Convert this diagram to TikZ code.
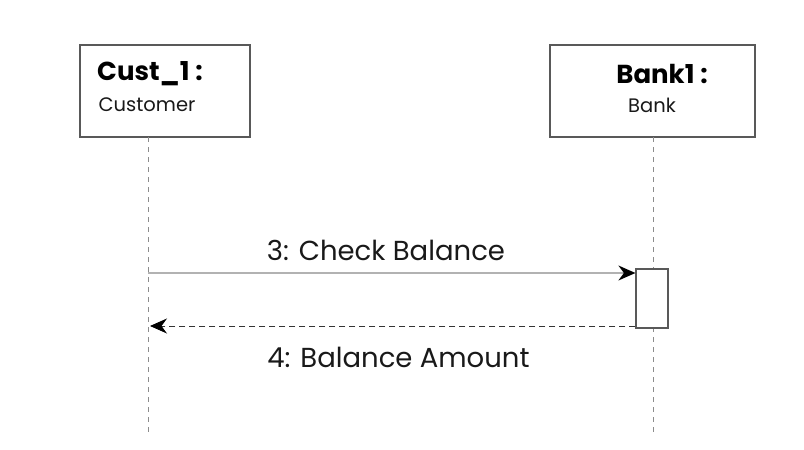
\documentclass[tikz,border=0pt]{standalone}
\usepackage{fontspec}
\setmainfont{Poppins}
\usetikzlibrary{arrows.meta}
\begin{document}
\begin{tikzpicture}[x=1pt,y=-1pt,
  objbox/.style={draw=black!65,line width=1.2pt,fill=white,inner sep=0pt},
  lifeline/.style={draw=black!45,line width=1pt,dash pattern=on 5pt off 5pt},
  actbox/.style={draw=black!65,line width=1.2pt,fill=white,minimum width=32pt,minimum height=59pt,inner sep=0pt},
  callmsg/.style={draw=black!30,line width=1.2pt,-{Stealth[length=17pt,width=15pt,black]}},
  retmsg/.style={draw=black!80,line width=0.9pt,dash pattern=on 6pt off 4pt,-{Stealth[length=17pt,width=15pt,black]}},
  msglabel/.style={font=\fontsize{27.5}{32}\selectfont,text=black!90},
  titletext/.style={font=\bfseries\fontsize{26}{30}\selectfont},
  subtext/.style={font=\fontsize{19.5}{23}\selectfont,text=black!90}]
\useasboundingbox[fill=white] (0,0) rectangle (804,450);
% object boxes
\node[objbox,minimum width=170pt,minimum height=92pt] (cust) at (165,91) {};
\node[objbox,minimum width=205pt,minimum height=92pt] (bank) at (652.5,91) {};
\node[titletext] (custt) at (150,74) {Cust\_1\hspace{0.22em}:};
\node[subtext] (custs) at (147,105) {Customer};
\node[titletext] (bankt) at (662,74) {Bank1\hspace{0.22em}:};
\node[subtext] (banks) at (652,105) {Bank};
% lifelines
\coordinate (custend) at (148,433);
\coordinate (bankend) at (653,433);
\draw[lifeline] (148,137) -- (custend);
\draw[lifeline] (653,137) -- (bankend);
% activation
\node[actbox] (act) at (652,298.5) {};
\coordinate (custcall) at (148,273);
\coordinate (custret) at (150,326);
\draw[callmsg] (custcall) -- (custcall -| act.west);
\draw[retmsg] (act.south west |- custret) -- (custret);
\node[msglabel] (l3) at (386,250) {3: Check Balance};
\node[msglabel] (l4) at (398.5,357) {4: Balance Amount};
\end{tikzpicture}
\end{document}
